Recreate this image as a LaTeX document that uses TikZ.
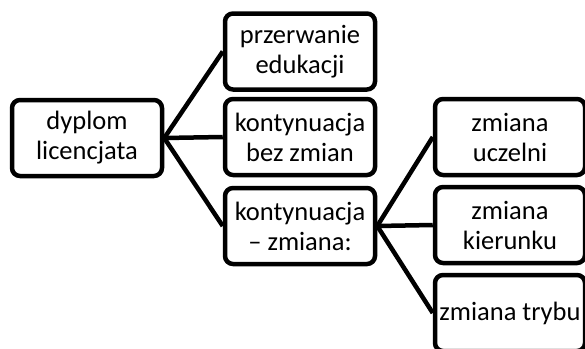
\documentclass[tikz,border=0pt]{standalone}
\usepackage{fontspec}
\setmainfont{Carlito}
\begin{document}
\begin{tikzpicture}[x=1pt,y=-1pt,
  box/.style={draw=black, line width=4.5pt, rounded corners=8pt, fill=white,
    minimum width=150pt, minimum height=76pt, inner sep=0pt, align=center,
    font=\fontsize{26.5}{30}\selectfont},
  link/.style={draw=black, line width=4.5pt}]
\useasboundingbox (0,0) rectangle (585,348);
\clip (0,0) rectangle (585,348);
\node[box] (a) at (87,138) {dyplom\\licencjata};
\node[box] (b1) at (300,51.5) {przerwanie\\edukacji};
\node[box] (b2) at (300,137) {kontynuacja\\bez zmian};
\node[box] (b3) at (300,226) {kontynuacja\\– zmiana:};
\node[box] (c1) at (510,137) {zmiana\\uczelni};
\node[box] (c2) at (510,225) {zmiana\\kierunku};
\node[box] (c3) at (510,313) {zmiana trybu};
\draw[link] (a.east) -- (b1.west);
\draw[link] (a.east) -- (b2.west);
\draw[link] (a.east) -- (b3.west);
\draw[link] (b3.east) -- (c1.west);
\draw[link] (b3.east) -- (c2.west);
\draw[link] (b3.east) -- (c3.west);
\end{tikzpicture}
\end{document}
